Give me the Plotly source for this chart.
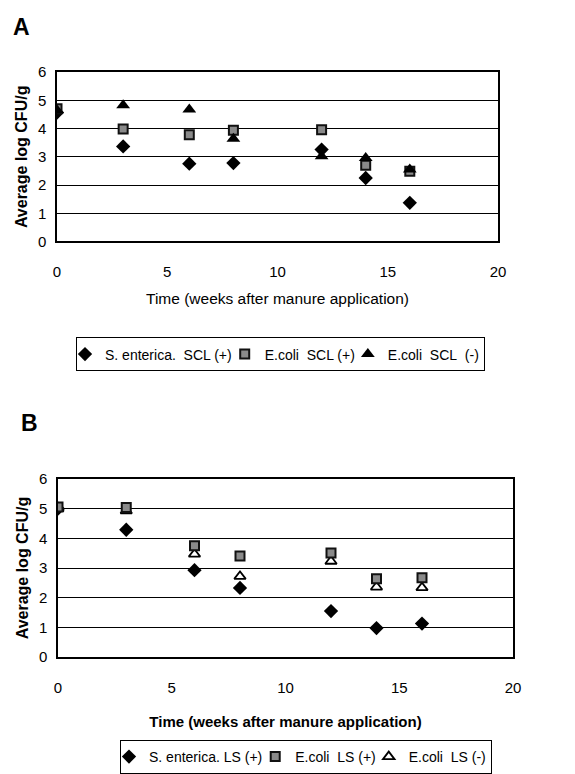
import plotly.graph_objects as go

weeks = [0, 3, 6, 8, 12, 14, 16]

# Panel A (SCL)
a_sent_pos = [4.57, 3.37, 2.76, 2.78, 3.26, 2.25, 1.37]
a_ecoli_pos = [4.71, 3.99, 3.78, 3.94, 3.96, 2.70, 2.49]
a_ecoli_neg = [4.65, 4.83, 4.68, 3.64, 3.02, 2.96, 2.55]

# Panel B (LS)
b_sent_pos = [5.00, 4.29, 2.93, 2.33, 1.55, 0.98, 1.13]
b_ecoli_pos = [5.06, 5.04, 3.75, 3.41, 3.51, 2.64, 2.67]
b_ecoli_neg = [5.00, 4.93, 3.47, 2.72, 3.23, 2.36, 2.34]

names_a = ["S. enterica.&nbsp; SCL (+)", "E.coli&nbsp; SCL (+)", "E.coli&nbsp; SCL&nbsp; (-)"]
names_b = ["S. enterica. LS (+)", "E.coli&nbsp; LS (+)", "E.coli&nbsp; LS (-)"]

x_ticks = [0, 5, 10, 15, 20]
y_ticks = [0, 1, 2, 3, 4, 5, 6]

FONT = "Arial"
W, H = 575, 774

fig = go.Figure()

sq = dict(symbol="square", size=9, color="#8a8a8a", line=dict(color="#111", width=2))
dia = dict(symbol="diamond", size=11, color="#000")
tri = dict(symbol="triangle-up", size=12, color="#000")
tri_open = dict(symbol="triangle-up-open", size=10, color="#000", line=dict(width=1.8))

fig.add_trace(go.Scatter(x=weeks, y=a_sent_pos, mode="markers", name=names_a[0], marker=dia,
                         xaxis="x", yaxis="y", legend="legend"))
fig.add_trace(go.Scatter(x=weeks, y=a_ecoli_pos, mode="markers", name=names_a[1], marker=sq,
                         xaxis="x", yaxis="y", legend="legend"))
fig.add_trace(go.Scatter(x=weeks, y=a_ecoli_neg, mode="markers", name=names_a[2], marker=tri,
                         xaxis="x", yaxis="y", legend="legend"))

fig.add_trace(go.Scatter(x=weeks, y=b_sent_pos, mode="markers", name=names_b[0], marker=dia,
                         xaxis="x2", yaxis="y2", legend="legend2"))
fig.add_trace(go.Scatter(x=weeks, y=b_ecoli_neg, mode="markers", name=names_b[2], marker=tri_open,
                         xaxis="x2", yaxis="y2", legend="legend2", showlegend=False))
fig.add_trace(go.Scatter(x=weeks, y=b_ecoli_pos, mode="markers", name=names_b[1], marker=sq,
                         xaxis="x2", yaxis="y2", legend="legend2"))
fig.add_trace(go.Scatter(x=[None], y=[None], mode="markers", name=names_b[2], marker=tri_open,
                         xaxis="x2", yaxis="y2", legend="legend2"))


def px(v):
    return v / W


def py(v):
    return 1 - v / H


xcommon = dict(range=[0, 20], tickvals=x_ticks, showgrid=False, zeroline=False,
               showline=True, linecolor="#000", linewidth=1.5, mirror=True,
               ticks="", tickfont=dict(family=FONT, size=15, color="#000"),
               ticklabelstandoff=16, automargin=False)
ycommon = dict(range=[0, 6], tickvals=y_ticks, showgrid=True, gridcolor="#000", gridwidth=1,
               zeroline=False, showline=True, linecolor="#000", linewidth=1.5, mirror=True,
               ticks="", tickfont=dict(family=FONT, size=15, color="#000"),
               ticklabelstandoff=6, automargin=False)

fig.update_layout(
    width=W, height=H,
    margin=dict(l=0, r=0, t=0, b=0),
    paper_bgcolor="white", plot_bgcolor="white",
    font=dict(family=FONT, color="#000"),
    xaxis=dict(xcommon, domain=[px(57), px(498)], anchor="y",
               title=dict(text="Time (weeks after manure application)",
                          font=dict(family=FONT, size=15.5), standoff=14)),
    yaxis=dict(ycommon, domain=[py(244), py(73)], anchor="x",
               title=dict(text="<b>Average log CFU/g</b>", font=dict(family=FONT, size=16), standoff=6)),
    xaxis2=dict(xcommon, domain=[px(58), px(513)], anchor="y2",
                title=dict(text="<b>Time (weeks after manure application)</b>",
                           font=dict(family=FONT, size=15), standoff=22)),
    yaxis2=dict(ycommon, domain=[py(664), py(484)], anchor="x2",
                title=dict(text="<b>Average log CFU/g</b>", font=dict(family=FONT, size=16), standoff=6)),
    legend=dict(orientation="h", x=px(76), y=py(341), xanchor="left", yanchor="top",
                bordercolor="#000", borderwidth=1, font=dict(family=FONT, size=14),
                itemwidth=30, tracegroupgap=0, bgcolor="white", indentation=-12),
    legend2=dict(orientation="h", x=px(120), y=py(748), xanchor="left", yanchor="top",
                 bordercolor="#000", borderwidth=1, font=dict(family=FONT, size=14),
                 itemwidth=30, tracegroupgap=0, bgcolor="white", indentation=-12),
    annotations=[
        dict(text="<b>A</b>", x=px(11), y=py(27), xref="paper", yref="paper",
             xanchor="left", yanchor="middle", showarrow=False, font=dict(family=FONT, size=23)),
        dict(text="<b>B</b>", x=px(19), y=py(427), xref="paper", yref="paper",
             xanchor="left", yanchor="middle", showarrow=False, font=dict(family=FONT, size=23)),
    ],
)

fig.write_html("out.html")
